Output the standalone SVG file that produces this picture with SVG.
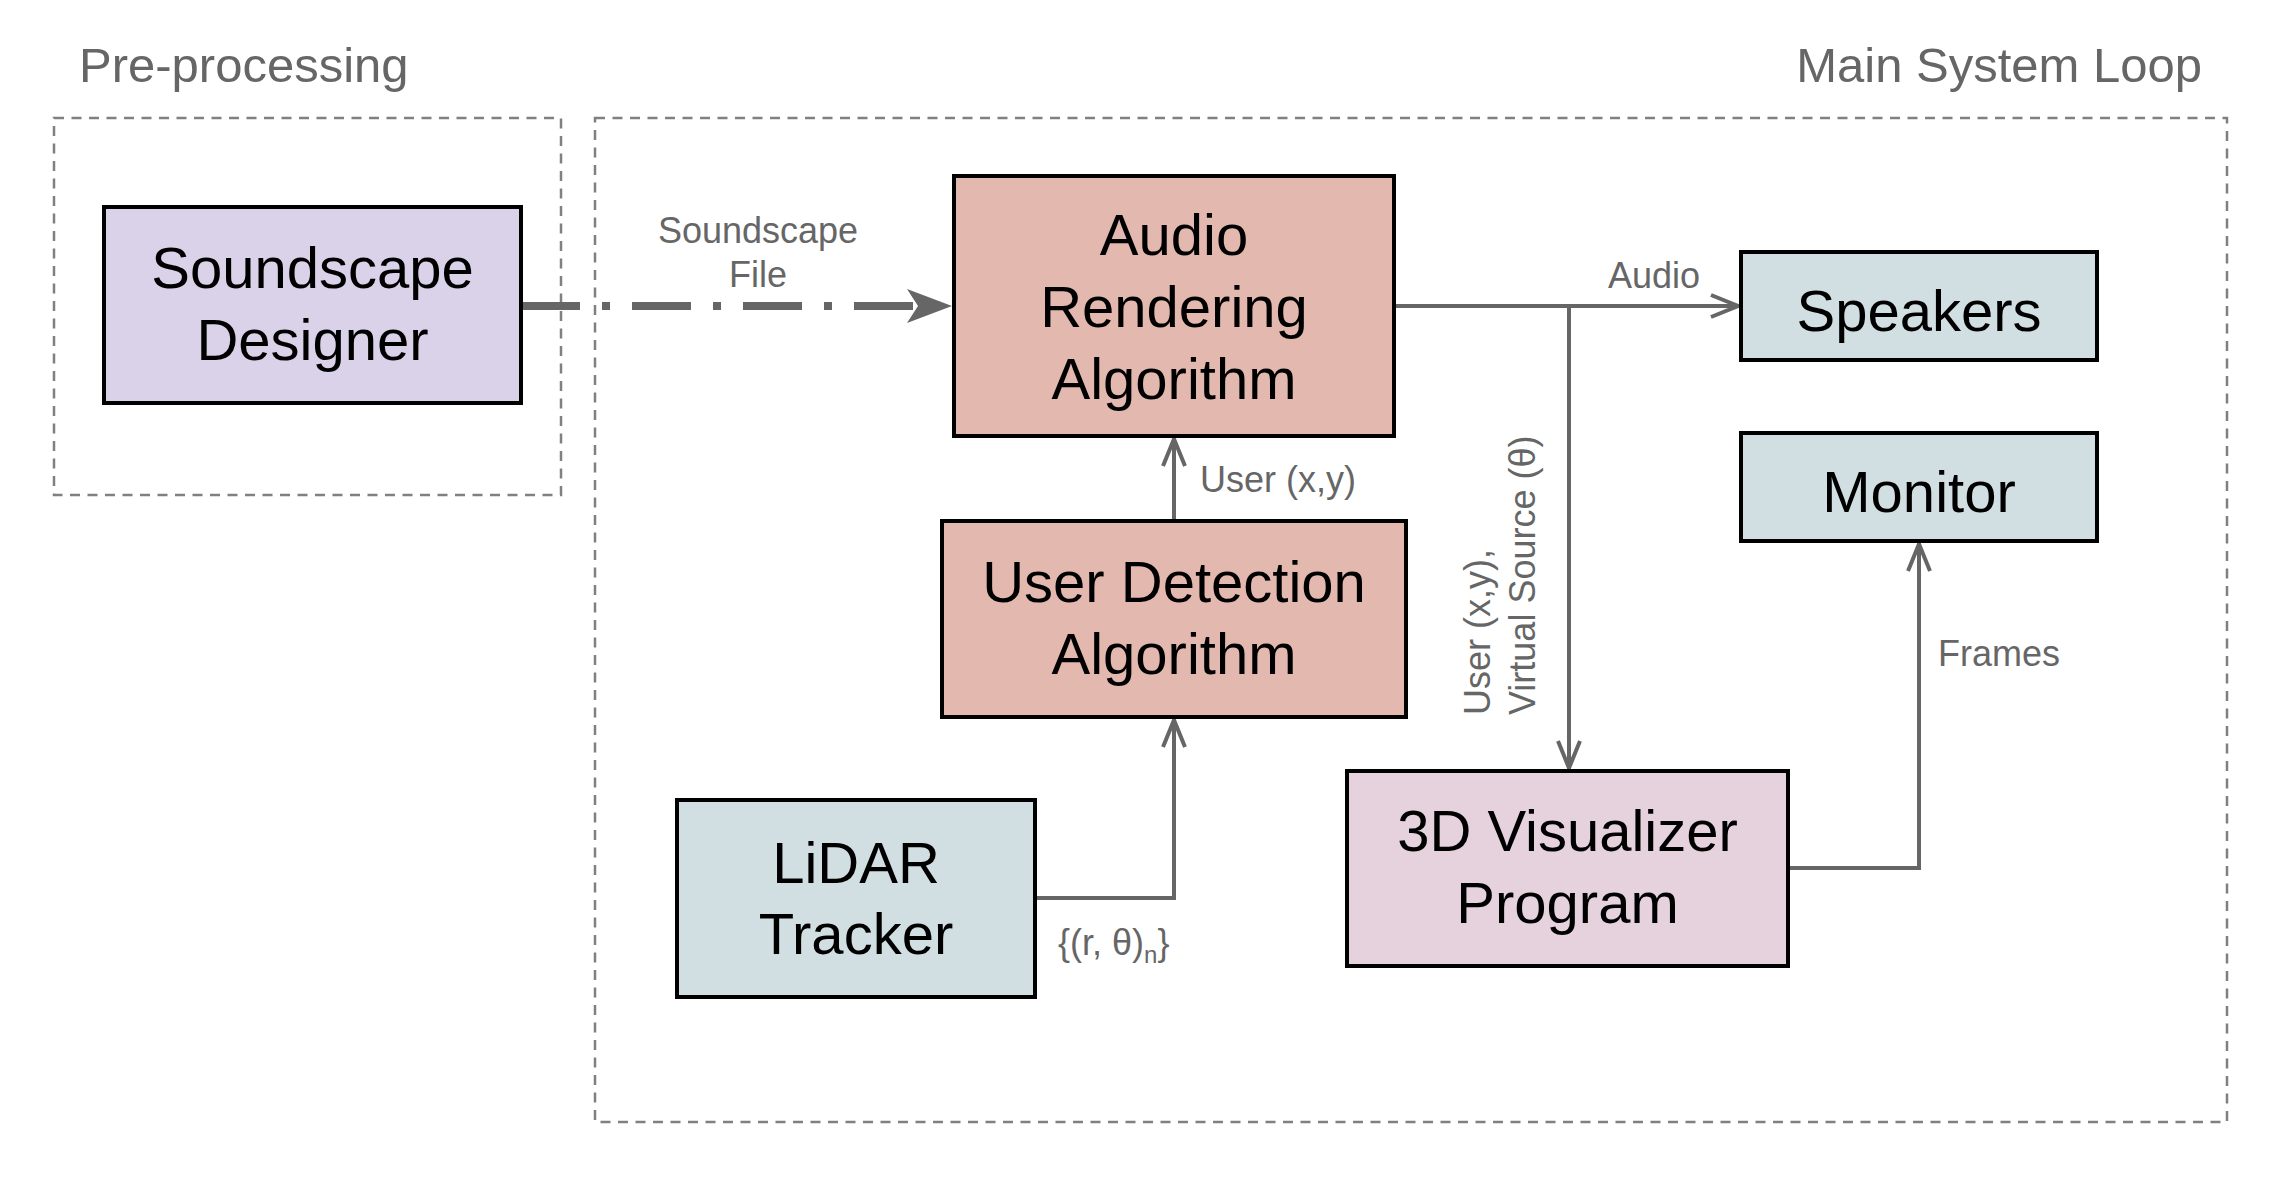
<svg xmlns="http://www.w3.org/2000/svg" width="2294" height="1180" viewBox="0 0 2294 1180">
<style>
  .grp { fill: none; stroke: #808080; stroke-width: 2.5; stroke-dasharray: 10 7.5; }
  .title { font-family: "Liberation Sans", Arial, sans-serif; font-size: 49px; fill: #666666; }
  .box { stroke: #000000; stroke-width: 4; }
  .ntext { font-family: "Liberation Sans", Arial, sans-serif; font-size: 58px; fill: #000000; text-anchor: middle; }
  .conn { fill: none; stroke: #666666; stroke-width: 4; }
  .lbl { font-family: "Liberation Sans", Arial, sans-serif; font-size: 36px; fill: #666666; }
</style>
<defs>
  <marker id="arrow" viewBox="-32 -14 34 28" refX="0" refY="0" markerUnits="userSpaceOnUse" markerWidth="34" markerHeight="28" orient="auto">
    <path d="M-28,-11 L-1,0 L-28,11" fill="none" stroke="#666666" stroke-width="4" stroke-linejoin="miter"/>
  </marker>
  <marker id="bigarrow" viewBox="-48 -20 50 40" refX="0" refY="0" markerUnits="userSpaceOnUse" markerWidth="50" markerHeight="40" orient="auto">
    <path d="M0,0 L-45,-17 L-34,0 L-45,17 Z" fill="#666666"/>
  </marker>
</defs>
<rect width="2294" height="1180" fill="#ffffff"/>

<g id="groups">
  <rect class="grp" x="54" y="118" width="507" height="377"/>
  <rect class="grp" x="595" y="118" width="1632" height="1004"/>
  <text class="title" x="79" y="82">Pre-processing</text>
  <text class="title" x="2202" y="82" text-anchor="end">Main System Loop</text>
</g>

<g id="connectors">
  <line x1="521" y1="306" x2="916" y2="306" stroke="#666666" stroke-width="8" stroke-dasharray="59 22 8 22"/>
  <path d="M521,306 L952,306" fill="none" stroke="none" marker-end="url(#bigarrow)"/>
  <path class="conn" d="M1394,306 L1739,306" marker-end="url(#arrow)"/>
  <path class="conn" d="M1569,306 L1569,769" marker-end="url(#arrow)"/>
  <path class="conn" d="M1174,521 L1174,438" marker-end="url(#arrow)"/>
  <path class="conn" d="M1035,898 L1174,898 L1174,719" marker-end="url(#arrow)"/>
  <path class="conn" d="M1788,868 L1919,868 L1919,543" marker-end="url(#arrow)"/>
  <text class="lbl" x="758" y="243" text-anchor="middle">Soundscape</text>
  <text class="lbl" x="758" y="287" text-anchor="middle">File</text>
  <text class="lbl" x="1608" y="288">Audio</text>
  <text class="lbl" x="1200" y="492">User (x,y)</text>
  <text class="lbl" transform="translate(1490,715) rotate(-90)"><tspan x="0" y="0">User (x,y),</tspan><tspan x="0" y="45">Virtual Source (θ)</tspan></text>
  <text class="lbl" x="1938" y="666">Frames</text>
  <text class="lbl" x="1058" y="955">{(r, θ)<tspan font-size="24" dy="8">n</tspan><tspan dy="-8">}</tspan></text>
</g>

<g id="soundscape-designer">
  <rect class="box" x="104" y="207" width="417" height="196" fill="#d9d2e9"/>
  <text class="ntext" x="312.5" y="288">Soundscape</text>
  <text class="ntext" x="312.5" y="360">Designer</text>
</g>

<g id="audio-rendering">
  <rect class="box" x="954" y="176" width="440" height="260" fill="#e3b8ae"/>
  <text class="ntext" x="1174" y="255">Audio</text>
  <text class="ntext" x="1174" y="327">Rendering</text>
  <text class="ntext" x="1174" y="399">Algorithm</text>
</g>

<g id="user-detection">
  <rect class="box" x="942" y="521" width="464" height="196" fill="#e3b8ae"/>
  <text class="ntext" x="1174" y="602">User Detection</text>
  <text class="ntext" x="1174" y="674">Algorithm</text>
</g>

<g id="lidar-tracker">
  <rect class="box" x="677" y="800" width="358" height="197" fill="#d2dfe2"/>
  <text class="ntext" x="856" y="883">LiDAR</text>
  <text class="ntext" x="856" y="954">Tracker</text>
</g>

<g id="visualizer">
  <rect class="box" x="1347" y="771" width="441" height="195" fill="#e6d2dc"/>
  <text class="ntext" x="1567.5" y="851">3D Visualizer</text>
  <text class="ntext" x="1567.5" y="923">Program</text>
</g>

<g id="speakers">
  <rect class="box" x="1741" y="252" width="356" height="108" fill="#d2dfe2"/>
  <text class="ntext" x="1919" y="331">Speakers</text>
</g>

<g id="monitor">
  <rect class="box" x="1741" y="433" width="356" height="108" fill="#d2dfe2"/>
  <text class="ntext" x="1919" y="512">Monitor</text>
</g>
</svg>
